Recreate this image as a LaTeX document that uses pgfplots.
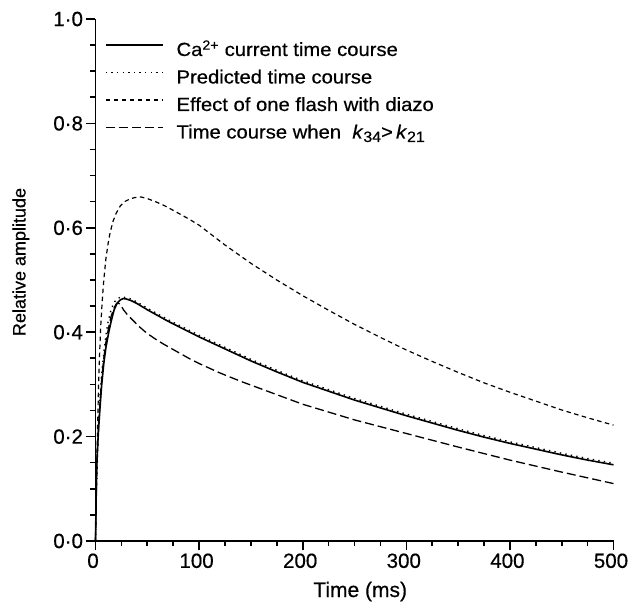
\documentclass[border=0pt]{standalone}
\usepackage{fontspec}
\setmainfont{Liberation Sans}[FakeBold=0.5]
\newfontfamily\legfont{Liberation Sans}[FakeStretch=1.065,FakeBold=0.5]
\usepackage{pgfplots}
\usepackage{pgfplotstable}
\pgfplotsset{compat=1.18}
\pgfplotstableread{
t y
0 0
1 0.13
2 0.18
3 0.215
4.5 0.26
6 0.30
8 0.34
10 0.37
12.8 0.40
15 0.42
18 0.443
21 0.456
24 0.462
27 0.4645
30 0.4635
35 0.460
40 0.455
50 0.443
60 0.432
70 0.421
80 0.411
90 0.401
100 0.391
125 0.368
150 0.345
175 0.324
200 0.304
225 0.287
250 0.270
275 0.255
300 0.240
325 0.226
350 0.212
375 0.199
400 0.187
425 0.176
450 0.165
475 0.155
500 0.146
}\solid
\pgfplotstableread{
t y
0 0
1 0.10
2 0.17
3 0.225
4.5 0.28
6 0.32
8 0.36
10 0.393
12 0.418
15 0.443
18 0.457
21 0.464
24 0.467
27 0.467
30 0.466
35 0.463
40 0.458
50 0.446
60 0.435
70 0.424
80 0.414
90 0.404
100 0.394
125 0.371
150 0.348
175 0.327
200 0.307
225 0.290
250 0.273
275 0.258
300 0.243
325 0.229
350 0.215
375 0.202
400 0.190
425 0.179
450 0.168
475 0.158
500 0.149
}\predicted
\pgfplotstableread{
t y
0 0
1 0.12
2 0.22
3 0.30
4 0.36
5 0.41
6.5 0.46
8 0.50
10 0.54
12 0.568
14 0.59
17 0.613
20 0.628
24 0.642
28 0.650
33 0.655
38 0.658
44 0.659
50 0.656
58 0.650
67 0.642
80 0.628
90 0.617
100 0.605
125 0.567
150 0.532
175 0.500
200 0.470
225 0.442
250 0.415
275 0.390
300 0.366
325 0.344
350 0.323
375 0.303
400 0.285
425 0.268
450 0.251
475 0.236
500 0.222
}\diazo
\pgfplotstableread{
t y
0 0
1 0.12
2 0.18
3 0.222
4.5 0.27
6 0.31
8 0.35
10 0.38
12.8 0.41
15 0.43
18 0.447
20 0.454
22 0.456
24 0.453
27 0.443
31 0.433
35 0.425
42 0.411
49 0.399
57 0.388
65 0.378
73 0.369
82 0.359
91 0.349
100 0.340
120 0.322
140 0.306
170 0.284
200 0.262
250 0.232
300 0.206
350 0.180
400 0.155
450 0.132
500 0.110
}\kfast
\begin{document}
\begin{tikzpicture}
\useasboundingbox (-95.5pt,-61pt) rectangle (533.5pt,541pt);
\begin{axis}[
  at={(0pt,0pt)}, anchor=south west,
  scale only axis, width=518pt, height=522pt,
  xmin=0, xmax=500, ymin=0, ymax=1,
  axis x line=bottom, axis y line=left,
  axis line style={-, line width=1.8pt},
  tick align=outside,
  major tick length=9pt, minor tick length=5.5pt,
  every tick/.style={line width=1.6pt, black},
  xtick={0,100,200,300,400,500}, xticklabels={0,100,200,300,400,500},
  ytick={0,0.2,0.4,0.6,0.8,1}, yticklabels={0·0,0·2,0·4,0·6,0·8,1·0},
  minor x tick num=3, minor y tick num=3,
  ticklabel style={font=\fontsize{20.5}{20.5}\selectfont},
  xticklabel style={xshift=-2.5pt},
  xlabel={Time (ms)},
  xlabel style={at={(axis description cs:0.511,-0.10728)}, anchor=base, font=\fontsize{21}{21}\selectfont},
  ylabel={Relative amplitude},
  ylabel style={at={(axis description cs:-0.13514,0.5345)}, anchor=base, font=\fontsize{18}{18}\selectfont},
  legend style={at={(axis description cs:0.0183,0.9579)}, anchor=north west, draw=none, fill=none,
    inner sep=0pt, outer sep=0pt, row sep=0pt, column sep=13pt,
    font=\legfont\fontsize{19}{19}\selectfont,
    cells={anchor=base west},
    nodes={inner sep=0pt, text height=15pt, text depth=12.5pt}},
  legend image code/.code={\draw[#1] (0pt,11pt) -- (57pt,11pt);},
  clip=false,
]
\addplot[black, line width=1.6pt] table[x=t,y=y] {\solid};
\addlegendentry{Ca\textsuperscript{2+} current time course}
\addplot[black, line width=1.4pt, dash pattern=on 1.4pt off 4.2pt] table[x=t,y=y] {\predicted};
\addlegendentry{Predicted time course}
\addplot[black, line width=1.2pt, dash pattern=on 4.5pt off 3.5pt] table[x=t,y=y] {\diazo};
\addlegendentry{Effect of one flash with diazo}
\addplot[black, line width=1.3pt, dash pattern=on 9pt off 4pt] table[x=t,y=y] {\kfast};
\addlegendentry{Time course when \ \textit{k}\raisebox{-0.35ex}{\fontsize{15}{15}\selectfont 34}>\,\textit{k}\raisebox{-0.35ex}{\fontsize{15}{15}\selectfont 21}}
\end{axis}
\end{tikzpicture}
\end{document}
